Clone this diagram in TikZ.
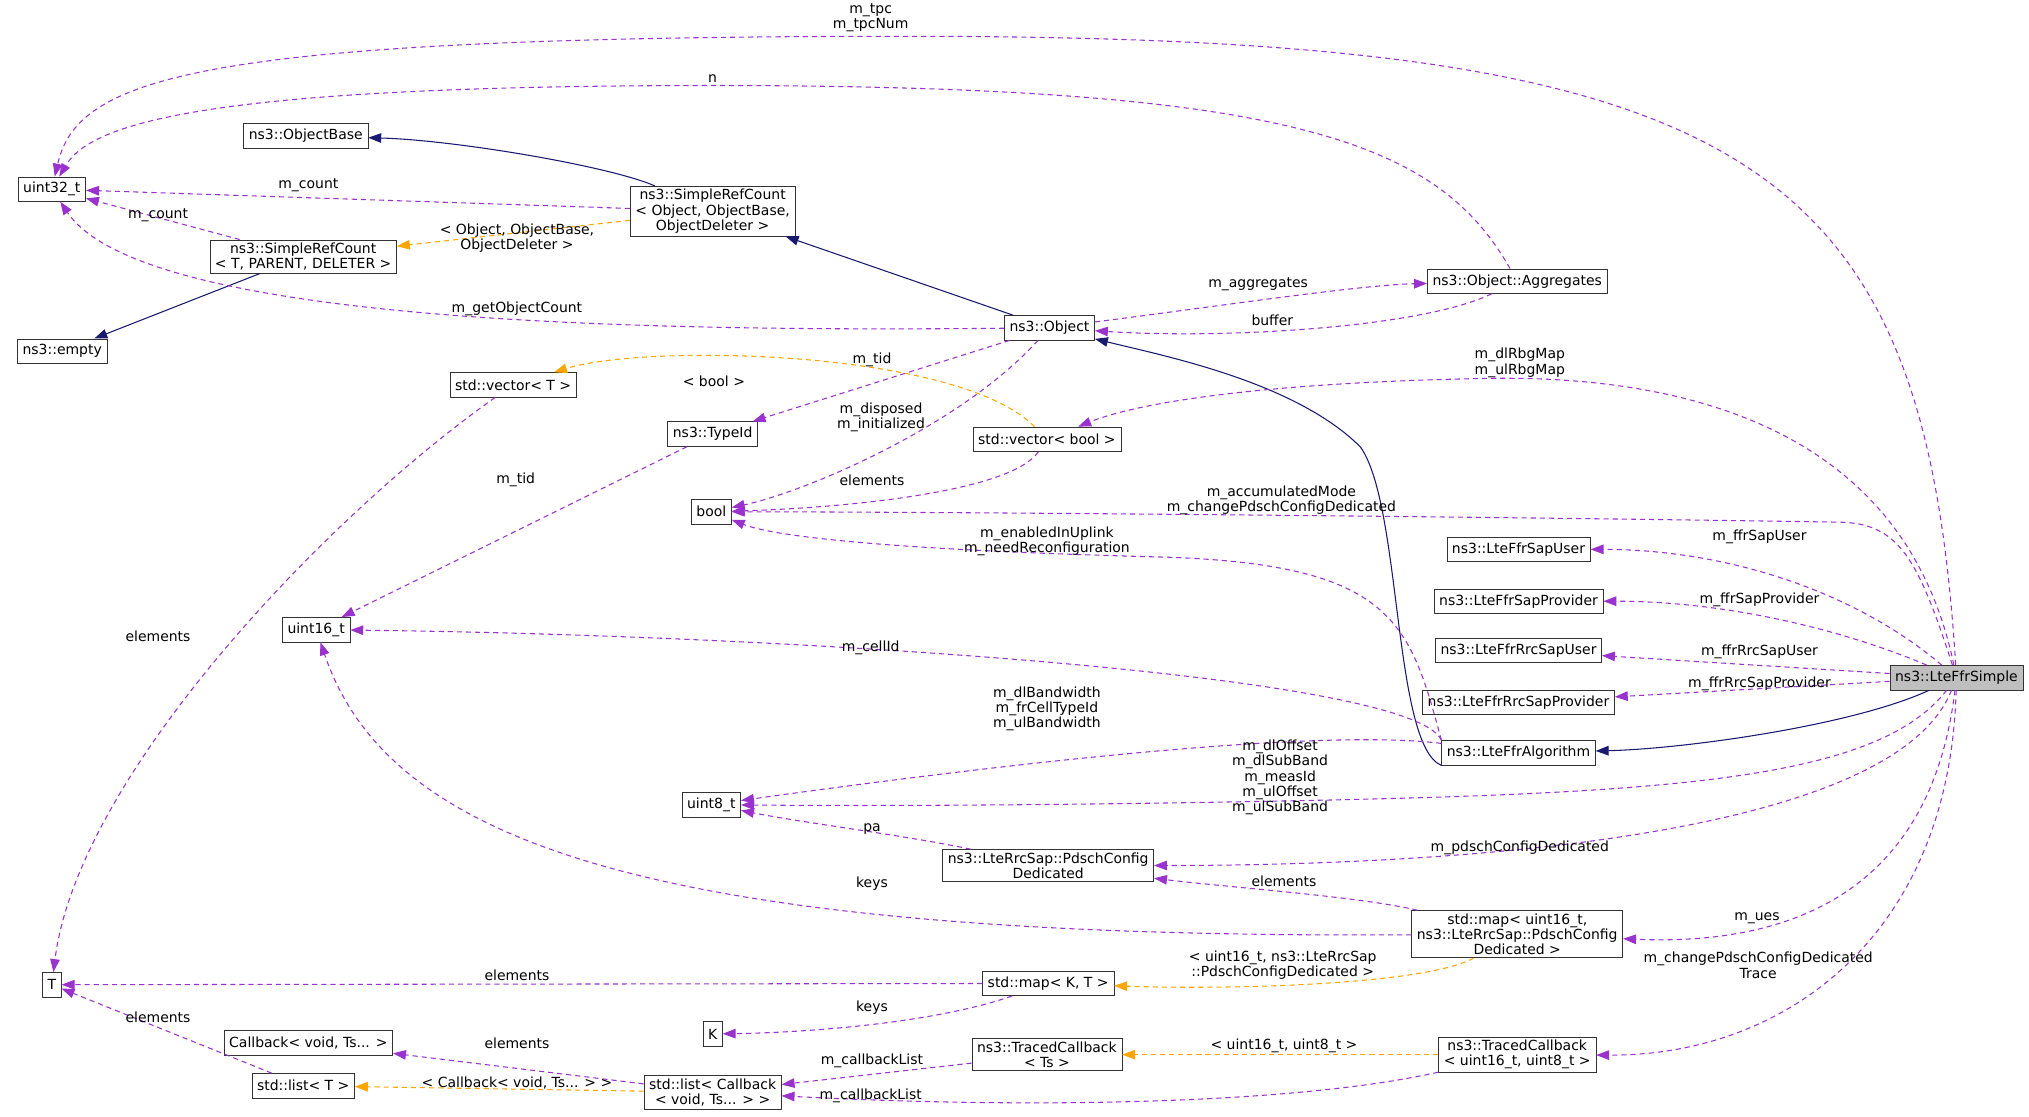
\documentclass[tikz,border=0pt]{standalone}
\usepackage{fontspec}
\setmainfont{DejaVu Sans}
\usetikzlibrary{arrows.meta}
\definecolor{mempurple}{HTML}{9A32CD}
\definecolor{tplorange}{HTML}{FFA500}
\definecolor{basenavy}{HTML}{191970}
\tikzset{
  cls/.style={draw=black!80, rectangle, inner xsep=0.12cm, inner ysep=0.07cm, minimum height=0.57cm, align=center, font=\fontsize{9.2}{10}\selectfont},
  lab/.style={inner sep=0pt, align=center, font=\fontsize{9.2}{10}\selectfont},
  mem/.style={draw=mempurple, line width=0.7pt, dash pattern=on 3.4pt off 2.6pt, -{Triangle[length=0.3cm,width=0.22cm]}, fill=none},
  tpl/.style={mem, draw=tplorange},
  base/.style={draw=basenavy, line width=0.7pt, -{Triangle[length=0.3cm,width=0.22cm]}},
}
\begin{document}
\begin{tikzpicture}[x=0.03cm, y=-0.03cm]
\useasboundingbox (0,0) rectangle (1566,862);
% classes
\node[cls] (u32) at (40,146) {uint32\_t};
\node[cls] (objbase) at (236,105) {ns3::ObjectBase};
\node[cls] (srcobj) at (550,163) {ns3::SimpleRefCount\\< Object, ObjectBase,\\ObjectDeleter >};
\node[cls] (srct) at (234,198) {ns3::SimpleRefCount\\< T, PARENT, DELETER >};
\node[cls] (empty) at (48,271) {ns3::empty};
\node[cls] (object) at (810,253) {ns3::Object};
\node[cls] (aggr) at (1171,217) {ns3::Object::Aggregates};
\node[cls] (vect) at (396,297) {std::vector< T >};
\node[cls] (typeid) at (550,335) {ns3::TypeId};
\node[cls] (vecbool) at (808,339) {std::vector< bool >};
\node[cls] (bool) at (549,395) {bool};
\node[cls] (sapuser) at (1172,424) {ns3::LteFfrSapUser};
\node[cls] (sapprov) at (1172,464) {ns3::LteFfrSapProvider};
\node[cls] (rrcuser) at (1172,502) {ns3::LteFfrRrcSapUser};
\node[cls] (rrcprov) at (1172,542) {ns3::LteFfrRrcSapProvider};
\node[cls] (ffralg) at (1172,581) {ns3::LteFfrAlgorithm};
\node[cls, fill=black!25] (ffrsimple) at (1510,523) {ns3::LteFfrSimple};
\node[cls] (u16) at (244,486) {uint16\_t};
\node[cls] (u8) at (549,621) {uint8\_t};
\node[cls] (pdsch) at (809,668) {ns3::LteRrcSap::PdschConfig\\Dedicated};
\node[cls] (umap) at (1171,721) {std::map< uint16\_t,\\ ns3::LteRrcSap::PdschConfig\\Dedicated >};
\node[cls] (tt) at (40,760) {T};
\node[cls] (mapkt) at (809,759) {std::map< K, T >};
\node[cls] (kk) at (550,798) {K};
\node[cls] (cbvoid) at (238,805) {Callback< void, Ts... >};
\node[cls] (tcts) at (808,814) {ns3::TracedCallback\\< Ts >};
\node[cls] (tcu) at (1171,814) {ns3::TracedCallback\\< uint16\_t, uint8\_t >};
\node[cls] (listt) at (234,838) {std::list< T >};
\node[cls] (listcb) at (550,843) {std::list< Callback\\< void, Ts... > >};
% inheritance
\draw[base] (srcobj) .. controls (470,128) and (350,108) .. (objbase);
\draw[base] (srct) -- (empty);
\draw[base] (object) -- (srcobj);
\draw[base] (ffralg.south west) .. controls (1075,575) and (1082,390) .. (1050,345) .. controls (1000,295) and (900,275) .. (object);
\draw[base] (ffrsimple) .. controls (1430,560) and (1300,578) .. (ffralg);
% members
\draw[mem] (ffrsimple) .. controls (1485,120) and (1350,28) .. (700,28) .. controls (150,28) and (60,60) .. (u32);
\draw[mem] (aggr) .. controls (1110,110) and (1000,66) .. (550,66) .. controls (160,66) and (70,95) .. (u32);
\draw[mem] (srcobj) -- (u32);
\draw[mem] (srct) -- (u32);
\draw[mem] (object) .. controls (500,256) and (110,250) .. (u32);
\draw[mem] (object) .. controls (950,235) and (1050,220) .. (aggr);
\draw[mem] (aggr) .. controls (1100,252) and (950,262) .. (object);
\draw[mem] (object) -- (typeid);
\draw[mem] (object) .. controls (740,330) and (620,380) .. (bool);
\draw[mem] (ffrsimple) .. controls (1470,330) and (1300,290) .. (1150,292) .. controls (980,295) and (880,310) .. (vecbool);
\draw[mem] (vecbool) .. controls (780,380) and (650,392) .. (bool);
\draw[mem] (typeid) -- (u16);
\draw[mem] (vect) .. controls (250,400) and (60,600) .. (tt);
\draw[mem] (ffrsimple) .. controls (1480,430) and (1465,404) .. (1420,403) .. controls (1100,398) and (700,395) .. (bool);
\draw[mem] (ffralg.north west) .. controls (1088,480) and (1075,436) .. (900,430) .. controls (700,425) and (600,415) .. (bool);
\draw[mem] (ffrsimple) .. controls (1430,455) and (1330,424) .. (sapuser);
\draw[mem] (ffrsimple) .. controls (1420,485) and (1330,464) .. (sapprov);
\draw[mem] (ffrsimple) -- (rrcuser);
\draw[mem] (ffrsimple) -- (rrcprov);
\draw[mem] (ffralg.north west) .. controls (1090,520) and (600,490) .. (u16);
\draw[mem] (ffralg) .. controls (1000,560) and (700,600) .. (u8);
\draw[mem] (ffrsimple) .. controls (1450,600) and (1300,612) .. (1000,618) .. controls (800,622) and (650,622) .. (u8);
\draw[mem] (pdsch) .. controls (700,645) and (620,635) .. (u8);
\draw[mem] (ffrsimple) .. controls (1460,650) and (1100,668) .. (pdsch);
\draw[mem] (umap) .. controls (1050,692) and (950,685) .. (pdsch);
\draw[mem] (umap) .. controls (500,725) and (300,650) .. (u16);
\draw[mem] (ffrsimple) .. controls (1490,690) and (1380,730) .. (umap);
\draw[mem] (ffrsimple) .. controls (1505,720) and (1380,815) .. (tcu);
\draw[mem] (mapkt) -- (tt);
\draw[mem] (mapkt) .. controls (720,790) and (620,797) .. (kk);
\draw[mem] (listcb) -- (cbvoid);
\draw[mem] (listt) -- (tt);
\draw[mem] (tcts) -- (listcb);
\draw[mem] (tcu) .. controls (1000,852) and (800,856) .. (listcb);
% templates
\draw[tpl] (srcobj) -- (srct);
\draw[tpl] (vecbool) .. controls (740,270) and (500,265) .. (vect);
\draw[tpl] (umap) .. controls (1100,760) and (950,764) .. (mapkt);
\draw[tpl] (tcu) -- (tcts);
\draw[tpl] (listcb) -- (listt);
% labels
\node[lab] (l1) at (672,14) {m\_tpc\\m\_tpcNum};
\node[lab] (l2) at (550,61) {n};
\node[lab] (l3) at (238,143) {m\_count};
\node[lab] (l4) at (122,166) {m\_count};
\node[lab] (l5) at (399,238) {m\_getObjectCount};
\node[lab] (l6) at (971,219) {m\_aggregates};
\node[lab] (l7) at (982,247) {buffer};
\node[lab] (l8) at (673,278) {m\_tid};
\node[lab] (l9) at (680,322) {m\_disposed\\m\_initialized};
\node[lab] (l10) at (1173,280) {m\_dlRbgMap\\m\_ulRbgMap};
\node[lab] (l11) at (673,371) {elements};
\node[lab] (l12) at (398,370) {m\_tid};
\node[lab] (l13) at (122,491) {elements};
\node[lab] (l14) at (989,386) {m\_accumulatedMode\\m\_changePdschConfigDedicated};
\node[lab] (l15) at (808,418) {m\_enabledInUplink\\m\_needReconfiguration};
\node[lab] (l16) at (1358,414) {m\_ffrSapUser};
\node[lab] (l17) at (1358,463) {m\_ffrSapProvider};
\node[lab] (l18) at (1358,503) {m\_ffrRrcSapUser};
\node[lab] (l19) at (1358,528) {m\_ffrRrcSapProvider};
\node[lab] (l20) at (672,500) {m\_cellId};
\node[lab] (l21) at (808,547) {m\_dlBandwidth\\m\_frCellTypeId\\m\_ulBandwidth};
\node[lab] (l22) at (988,600) {m\_dlOffset\\m\_dlSubBand\\m\_measId\\m\_ulOffset\\m\_ulSubBand};
\node[lab] (l23) at (673,640) {pa};
\node[lab] (l24) at (1173,654) {m\_pdschConfigDedicated};
\node[lab] (l25) at (991,680) {elements};
\node[lab] (l26) at (673,682) {keys};
\node[lab] (l27) at (1356,709) {m\_ues};
\node[lab] (l28) at (1357,745) {m\_changePdschConfigDedicated\\Trace};
\node[lab] (l29) at (399,753) {elements};
\node[lab] (l30) at (673,778) {keys};
\node[lab] (l31) at (399,805) {elements};
\node[lab] (l32) at (122,785) {elements};
\node[lab] (l33) at (673,819) {m\_callbackList};
\node[lab] (l34) at (672,846) {m\_callbackList};
\node[lab] (l35) at (399,184) {< Object, ObjectBase,\\ObjectDeleter >};
\node[lab] (l36) at (551,294) {< bool >};
\node[lab] (l37) at (990,745) {< uint16\_t, ns3::LteRrcSap\\::PdschConfigDedicated >};
\node[lab] (l38) at (991,807) {< uint16\_t, uint8\_t >};
\node[lab] (l39) at (399,836) {< Callback< void, Ts... > >};
\end{tikzpicture}
\end{document}
